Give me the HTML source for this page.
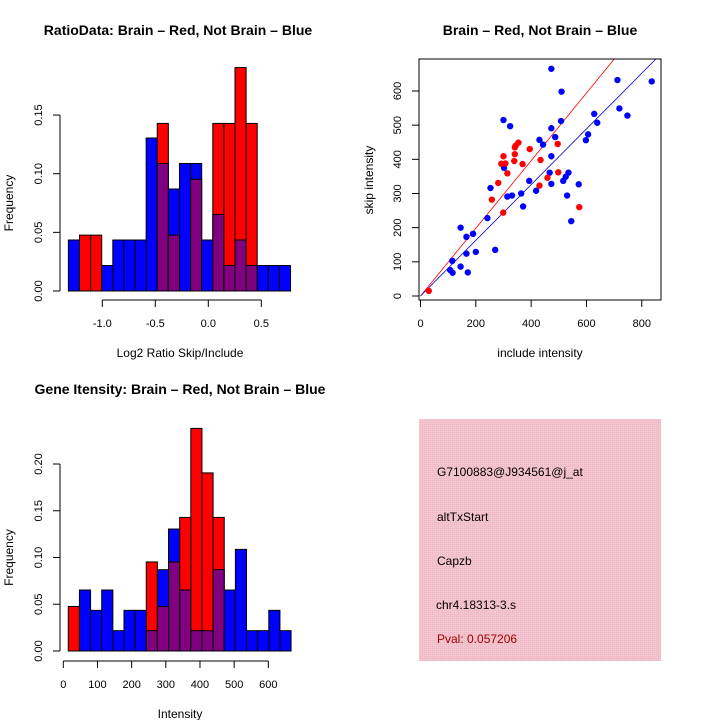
<!DOCTYPE html>
<html><head><meta charset="utf-8"><style>
html,body{margin:0;padding:0;background:#fff;}
svg{display:block;font-family:"Liberation Sans",Helvetica,Arial,sans-serif;}
</style></head><body>
<svg id="c" width="720" height="720" viewBox="0 0 720 720" xmlns="http://www.w3.org/2000/svg">
<defs>
<pattern id="pk" width="2" height="2" patternUnits="userSpaceOnUse"><rect width="2" height="2" fill="#f4c4cf"/><rect width="1" height="1" fill="#eab6c4"/></pattern>
</defs>
<g id="p1"></g>
<g id="p2"></g>
<g id="p3"></g>
<g>
<rect x="419" y="419" width="242" height="242" fill="url(#pk)"/>
<text x="437" y="476" font-size="12">G7100883@J934561@j_at</text>
<text x="437" y="521" font-size="12">altTxStart</text>
<text x="437" y="565" font-size="12">Capzb</text>
<text x="436" y="609" font-size="12">chr4.18313-3.s</text>
<text x="437" y="643" font-size="12" fill="#a00000">Pval: 0.057206</text>
</g>
</svg>
<script>
// Panel 1: log2 ratio histogram (20 bins)
const ratioBinStart = -1.32;
const ratioBinWidth = 0.1048;
const ratioBlue = [2,0,0,1,2,2,2,6,5,4,5,5,2,3,1,2,1,1,1,1].map(v=>v/46);
const ratioRed  = [0,1,1,0,0,0,0,0,3,1,0,2,0,3,3,4,3,0,0,0].map(v=>v/21);
const ratioXTicks = [-1.0,-0.5,0.0,0.5];
const ratioXLabels = ["-1.0","-0.5","0.0","0.5"];
const ratioYTicks = [0,0.05,0.10,0.15];
const ratioYLabels = ["0.00","0.05","0.10","0.15"];
// Panel 3: intensity histogram
const intBinStart = 14.6;
const intBinWidth = 32.6;
const intBlue = [0,3,2,3,1,2,2,1,4,6,3,1,1,4,3,5,1,1,2,1].map(v=>v/46);
const intRed  = [1,0,0,0,0,0,0,2,1,2,3,5,4,3,0,0,0,0,0,0].map(v=>v/21);
const intXTicks = [0,100,200,300,400,500,600];
const intXLabels = ["0","100","200","300","400","500","600"];
const intYTicks = [0,0.05,0.10,0.15,0.20];
const intYLabels = ["0.00","0.05","0.10","0.15","0.20"];
// Panel 2: scatter
const blueX = [473,510,712,836,719,748,628,639,606,598,508,473,487,430,443,300,324,302,473,467,535,525,516,473,572,393,418,364,331,314,530,371,253,545,242,145,166,190,166,200,270,115,145,107,116,171];
const blueY = [665,598,632,628,549,528,533,507,473,456,512,491,465,457,443,515,497,375,409,361,361,349,337,328,327,337,308,300,294,291,294,262,316,219,228,200,173,182,124,129,135,103,86,76,68,69];
const redX = [30,258,281,299,314,292,307,300,339,341,341,344,354,369,395,434,496,459,430,498,574];
const redY = [15,282,331,244,359,387,388,409,395,415,435,440,449,386,430,398,445,346,323,362,260];
const redSlope = 0.99;
const blueSlope = 0.815;
const scXTicks = [0,200,400,600,800];
const scYTicks = [0,100,200,300,400,500,600];

const NS="http://www.w3.org/2000/svg";
function mk(parent,tag,attrs,txt){const e=document.createElementNS(NS,tag);for(const k in attrs)e.setAttribute(k,attrs[k]);if(txt!==undefined)e.textContent=txt;parent.appendChild(e);return e;}

function hist(g,o){
  const sx=v=>o.x0+(v-o.xv0)*o.kx, sy=v=>o.y0-v*o.ky;
  for(let i=0;i<o.blue.length;i++){
    const a=o.start+i*o.w, b=a+o.w, x1=sx(a), x2=sx(b);
    const bv=o.blue[i], rv=o.red[i];
    const hi=Math.max(bv,rv), lo=Math.min(bv,rv);
    if(hi>0){
      const r=mk(g,'rect',{x:x1,y:sy(hi),width:x2-x1,height:sy(0)-sy(hi),fill:bv>=rv?'#0000ff':'#ff0000',stroke:'#000','stroke-width':1});
      
      
    }
    if(lo>0){
      const r=mk(g,'rect',{x:x1,y:sy(lo),width:x2-x1,height:sy(0)-sy(lo),fill:'#800080',stroke:'#000','stroke-width':1});
      
      
    }
  }
  // x axis
  const xa=mk(g,'g',{});
  
  
  mk(xa,'line',{x1:sx(o.xt[0]),x2:sx(o.xt[o.xt.length-1]),y1:o.axY,y2:o.axY,stroke:'#000'});
  o.xt.forEach((t,i)=>{mk(xa,'line',{x1:sx(t),x2:sx(t),y1:o.axY,y2:o.axY+7,stroke:'#000'});
    mk(xa,'text',{x:sx(t),y:o.axY+27,'font-size':11,'text-anchor':'middle'},o.xl[i]);});
  const xt=mk(g,'text',{x:o.xTitleX,y:o.axY+57,'font-size':12,'text-anchor':'middle'},o.xTitle);
  
  
  const ya=mk(g,'g',{});
  
  
  mk(ya,'line',{x1:60,x2:60,y1:sy(o.yt[0]),y2:sy(o.yt[o.yt.length-1]),stroke:'#000'});
  o.yt.forEach((t,i)=>{mk(ya,'line',{x1:53,x2:60,y1:sy(t),y2:sy(t),stroke:'#000'});
    mk(ya,'text',{x:42,y:sy(t),'font-size':11,'text-anchor':'middle',transform:`rotate(-90 42 ${sy(t)})`},o.yl[i]);});
  const yc=(sy(o.yt[0])+sy(o.yt[o.yt.length-1]))/2;
  const yt=mk(g,'text',{x:13,y:yc,'font-size':12,'text-anchor':'middle',transform:`rotate(-90 13 ${yc})`},'Frequency');
  
  
  const tt=mk(g,'text',{x:o.titleX,y:o.titleY,'font-size':14,'font-weight':'bold','text-anchor':'middle'},o.title);
  
  
}

hist(document.getElementById('p1'),{x0:208.3,xv0:0,kx:106,y0:291,ky:1173,start:ratioBinStart,w:ratioBinWidth,blue:ratioBlue,red:ratioRed,
  xt:ratioXTicks,xl:ratioXLabels,yt:ratioYTicks,yl:ratioYLabels,axY:300,xTitle:'Log2 Ratio Skip/Include',xTitleX:180,
  title:'RatioData: Brain \u2013 Red, Not Brain \u2013 Blue',titleX:178,titleY:35});
hist(document.getElementById('p3'),{x0:63.3,xv0:0,kx:0.3417,y0:651,ky:935,start:intBinStart,w:intBinWidth,blue:intBlue,red:intRed,
  xt:intXTicks,xl:intXLabels,yt:intYTicks,yl:intYLabels,axY:661,xTitle:'Intensity',xTitleX:180,
  title:'Gene Itensity: Brain \u2013 Red, Not Brain \u2013 Blue',titleX:180,titleY:394});

// scatter
(function(){
  const g=document.getElementById('p2');
  const sx=v=>420.5+v*0.2766, sy=v=>296-v*0.3417;
  const L=419,R=661,T=59,B=300;
  mk(g,'defs',{}).innerHTML='<clipPath id="scClip"><rect x="419" y="59" width="242" height="241"/></clipPath>';
  const lines=mk(g,'g',{'clip-path':'url(#scClip)'});
  const xmax=1000;
  const rl=mk(lines,'line',{x1:sx(0),y1:sy(0),x2:sx(xmax),y2:sy(xmax*redSlope),stroke:'#ff0000','stroke-width':0.8});
  
  
  const bl=mk(lines,'line',{x1:sx(0),y1:sy(0),x2:sx(xmax),y2:sy(xmax*blueSlope),stroke:'#0000cc','stroke-width':0.8});
  
  
  blueX.forEach((x,i)=>{const c=mk(g,'circle',{cx:sx(x),cy:sy(blueY[i]),r:3.2,fill:'#0000ff'});
    
    });
  redX.forEach((x,i)=>{const c=mk(g,'circle',{cx:sx(x),cy:sy(redY[i]),r:3.2,fill:'#ff0000'});
    
    });
  const box=mk(g,'rect',{x:L,y:T,width:R-L,height:B-T,fill:'none',stroke:'#000'});
  
  
  const xa=mk(g,'g',{});
  
  
  mk(xa,'line',{x1:sx(scXTicks[0]),x2:sx(scXTicks[scXTicks.length-1]),y1:B,y2:B,stroke:'#000'});
  scXTicks.forEach(t=>{mk(xa,'line',{x1:sx(t),x2:sx(t),y1:B,y2:B+7,stroke:'#000'});
    mk(xa,'text',{x:sx(t),y:B+27,'font-size':11,'text-anchor':'middle'},String(t));});
  const ya=mk(g,'g',{});
  
  
  mk(ya,'line',{x1:L,x2:L,y1:sy(scYTicks[0]),y2:sy(scYTicks[scYTicks.length-1]),stroke:'#000'});
  scYTicks.forEach(t=>{mk(ya,'line',{x1:L-7,x2:L,y1:sy(t),y2:sy(t),stroke:'#000'});
    mk(ya,'text',{x:401,y:sy(t),'font-size':11,'text-anchor':'middle',transform:`rotate(-90 401 ${sy(t)})`},String(t));});
  const xt=mk(g,'text',{x:540,y:357,'font-size':12,'text-anchor':'middle'},'include intensity');
  
  
  const yt=mk(g,'text',{x:373,y:180,'font-size':12,'text-anchor':'middle',transform:'rotate(-90 373 180)'},'skip intensity');
  
  
  const tt=mk(g,'text',{x:540,y:35,'font-size':14,'font-weight':'bold','text-anchor':'middle'},'Brain \u2013 Red, Not Brain \u2013 Blue');
  
  
})();
</script>
</body></html>
